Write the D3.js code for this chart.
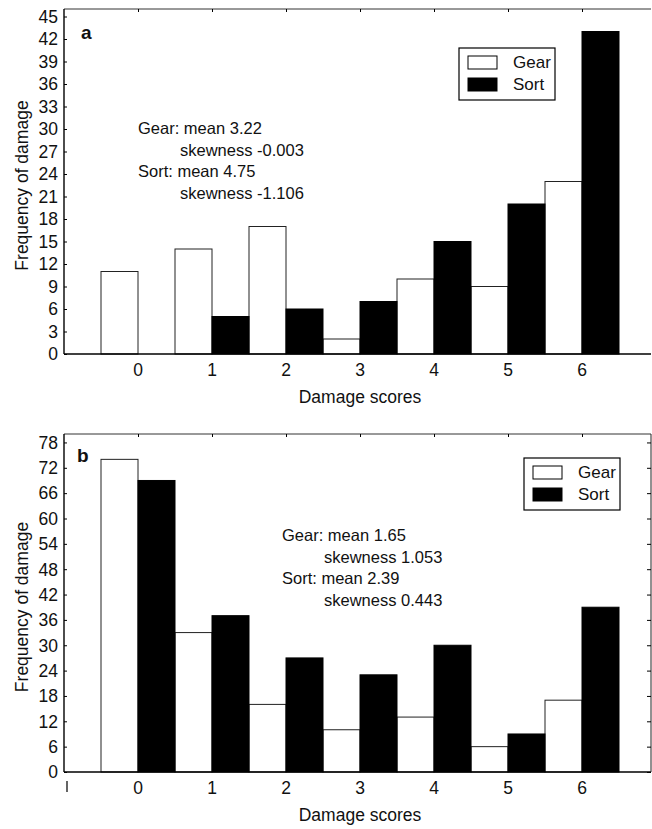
<!DOCTYPE html>
<html>
<head>
<meta charset="utf-8">
<script src="https://cdn.jsdelivr.net/npm/d3@7"></script>
<style>
  body { margin: 0; background: #fff; }
  svg { display: block; font-family: "Liberation Sans", Arial, sans-serif; }
  text { fill: #111; }
</style>
</head>
<body>
<div id="chart"></div>
<script>
// data
var scores = [0, 1, 2, 3, 4, 5, 6]
var gearA = [11, 14, 17, 2, 10, 9, 23]
var sortA = [0, 5, 6, 7, 15, 20, 43]
var gearB = [74, 33, 16, 10, 13, 6, 17]
var sortB = [69, 37, 27, 23, 30, 9, 39]
var ticksA = d3.range(0, 46, 3)
var ticksB = d3.range(0, 79, 6)
var statsA = ["Gear: mean 3.22", "skewness -0.003", "Sort: mean 4.75", "skewness -1.106"]
var statsB = ["Gear: mean 1.65", "skewness 1.053", "Sort: mean 2.39", "skewness 0.443"]

var W = 652, H = 829
var svg = d3.select("#chart").append("svg").attr("width", W).attr("height", H)

function panel(opt) {
  var g = svg.append("g")
  var x = d3.scaleLinear().domain([-1, 7]).range([opt.left, opt.left + 592])
  var y = d3.scaleLinear().domain([0, opt.ymax]).range([opt.bottom, opt.top])
  var right = W - 1

  // bars
  scores.forEach(function (s, i) {
    g.append("rect")
      .attr("x", x(s - 0.5)).attr("y", y(opt.gear[i]))
      .attr("width", x(s) - x(s - 0.5)).attr("height", y(0) - y(opt.gear[i]))
      .attr("fill", "#fff").attr("stroke", "#222").attr("stroke-width", 1)
  })
  scores.forEach(function (s, i) {
    g.append("rect")
      .attr("x", x(s)).attr("y", y(opt.sort[i]))
      .attr("width", x(s + 0.5) - x(s)).attr("height", y(0) - y(opt.sort[i]))
      .attr("fill", "#000").attr("stroke", "#000").attr("stroke-width", 1)
  })

  // frame
  g.append("line").attr("x1", opt.left).attr("x2", right).attr("y1", opt.top).attr("y2", opt.top)
    .attr("stroke", "#333").attr("stroke-width", 1)
  g.append("line").attr("x1", opt.left).attr("x2", right).attr("y1", y(0)).attr("y2", y(0))
    .attr("stroke", "#000").attr("stroke-width", 1.6)
  g.append("line").attr("x1", opt.left).attr("x2", opt.left).attr("y1", opt.top).attr("y2", y(0))
    .attr("stroke", "#000").attr("stroke-width", 1.4)
  if (opt.rightBorder) {
    g.append("line").attr("x1", right).attr("x2", right).attr("y1", opt.top).attr("y2", y(0))
      .attr("stroke", "#222").attr("stroke-width", 1)
    g.append("g").attr("transform", "translate(" + right + ",0)")
      .call(d3.axisLeft(y).tickValues(opt.ticks).tickSize(4).tickFormat(""))
      .call(function (a) { a.select(".domain").remove() })
  }

  // y axis
  var ya = g.append("g").attr("transform", "translate(" + opt.left + ",0)")
    .call(d3.axisRight(y).tickValues(opt.ticks).tickSize(3).tickFormat(""))
  ya.select(".domain").remove()
  g.append("g").selectAll("text").data(opt.ticks).enter().append("text")
    .attr("x", opt.left - 6).attr("y", function (d) { return y(d) })
    .attr("dy", "0.36em").attr("text-anchor", "end")
    .attr("font-size", 17.5).text(function (d) { return d })

  // top border ticks
  g.append("g").attr("transform", "translate(0," + opt.top + ")")
    .call(d3.axisBottom(x).tickValues(scores).tickSize(3).tickFormat(""))
    .call(function (a) { a.select(".domain").remove() })

  // x labels
  g.append("g").selectAll("text").data(scores).enter().append("text")
    .attr("x", function (d) { return x(d) }).attr("y", y(0) + 22)
    .attr("text-anchor", "middle").attr("font-size", 17.5)
    .text(function (d) { return d })
  if (opt.extraTick) {
    g.append("line").attr("x1", x(-1) + 3).attr("x2", x(-1) + 3)
      .attr("y1", y(0) + 9).attr("y2", y(0) + 20)
      .attr("stroke", "#111").attr("stroke-width", 1.3)
  }

  g.append("text").attr("x", x(3)).attr("y", y(0) + 49)
    .attr("text-anchor", "middle").attr("font-size", 17.5).text("Damage scores")
  g.append("text")
    .attr("transform", "translate(" + 22 + "," + ((opt.top + y(0)) / 2 + 4) + ") rotate(-90)")
    .attr("text-anchor", "middle").attr("dy", "0.35em").attr("font-size", 17.5)
    .text("Frequency of damage")

  // panel letter
  g.append("text").attr("x", opt.letter[0]).attr("y", opt.letter[1])
    .attr("font-size", 19).attr("font-weight", "bold").text(opt.name)

  // stats text
  opt.stats.forEach(function (t, i) {
    g.append("text").attr("x", opt.statX + (i % 2 ? 42 : 0)).attr("y", opt.statY + i * 21.5)
      .attr("font-size", 16.5).text(t)
  })

  // legend
  var lg = g.append("g").attr("transform", "translate(" + opt.legend[0] + "," + opt.legend[1] + ")")
  lg.append("rect").attr("width", 96).attr("height", 52)
    .attr("fill", "#fff").attr("stroke", "#000").attr("stroke-width", 1.2)
  lg.append("rect").attr("x", 9).attr("y", 8).attr("width", 29).attr("height", 13)
    .attr("fill", "#fff").attr("stroke", "#000")
  lg.append("rect").attr("x", 9).attr("y", 30).attr("width", 29).attr("height", 13)
    .attr("fill", "#000").attr("stroke", "#000")
  lg.append("text").attr("x", 54).attr("y", 20).attr("font-size", 17).text("Gear")
  lg.append("text").attr("x", 54).attr("y", 42).attr("font-size", 17).text("Sort")
}

panel({ name: "a", top: 9, bottom: 354, left: 64, ymax: 46, ticks: ticksA,
  gear: gearA, sort: sortA, stats: statsA, statX: 138, statY: 134,
  legend: [459, 48], letter: [81, 39], rightBorder: false, extraTick: false })

panel({ name: "b", top: 434, bottom: 772, left: 64, ymax: 80, ticks: ticksB,
  gear: gearB, sort: sortB, stats: statsB, statX: 282, statY: 541,
  legend: [524, 458], letter: [77, 462], rightBorder: true, extraTick: true })
</script>
</body>
</html>
